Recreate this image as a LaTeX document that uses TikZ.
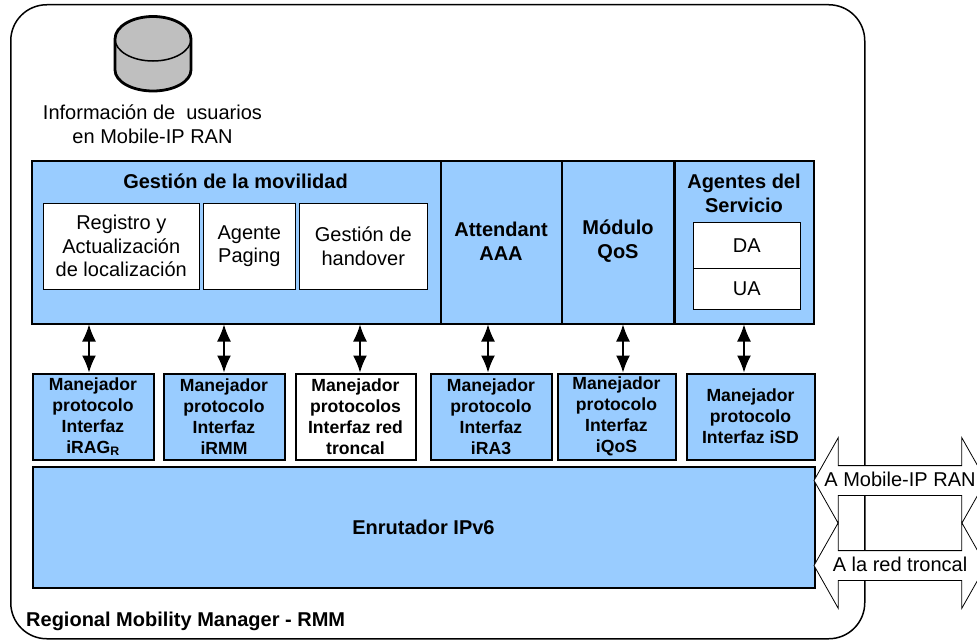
\documentclass[tikz,border=0pt]{standalone}
\usepackage{fontspec}
\setmainfont{Liberation Sans}
\usetikzlibrary{shapes.arrows,arrows.meta,positioning}
\definecolor{moduleblue}{HTML}{99CCFF}
\newcommand{\regfont}{\fontsize{20}{23.5}\selectfont}
\newcommand{\titlefont}{\fontsize{20}{24}\selectfont\bfseries}
\newcommand{\manfont}{\fontsize{17.6}{21}\selectfont\bfseries}

\begin{document}
\begin{tikzpicture}[
    x=1pt, y=-1pt,
    cell/.style={rectangle, draw=black, fill=moduleblue, line width=2pt, anchor=north west, inner sep=0pt},
    inbox/.style={rectangle, draw=black, fill=white, line width=1.6pt, anchor=north west, align=center, inner sep=0pt, font=\regfont},
    handler/.style={cell, align=center, font=\manfont, minimum height=86pt},
    label/.style={align=center, inner sep=0pt, font=\titlefont},
    link/.style={{Latex[length=17pt,width=14pt]}-{Latex[length=17pt,width=14pt]}, line width=1.4pt},
    extarrow/.style={double arrow, draw=black, fill=white, line width=0.8pt, font=\regfont, minimum height=172pt, double arrow tip angle=121, double arrow head extend=28pt, inner xsep=0pt, inner ysep=0pt, text height=20pt, text depth=9pt}
]
\useasboundingbox (0,0) rectangle (977,642);

% Outer frame
\node[rectangle, draw=black, line width=1.5pt, rounded corners=36pt, anchor=north west, minimum width=854pt, minimum height=634pt, inner sep=0pt] (rmm) at (10,4) {};
\node[anchor=west, inner sep=0pt, font=\titlefont] (rmmtext) at (26,621) {Regional Mobility Manager - RMM};

% Database
\draw[draw=black, fill=black!25, line width=2.8pt] (115,39) arc[start angle=180, end angle=0, x radius=38pt, y radius=22.5pt] -- (191,70) arc[start angle=0, end angle=-180, x radius=38pt, y radius=21pt] -- cycle;
\draw[draw=black, line width=1.5pt] (115,39) arc[start angle=180, end angle=360, x radius=38pt, y radius=22pt];
\node[align=center, inner sep=0pt, font=\regfont] (dbtext) at (152.5,124) {Información de \ usuarios\\en Mobile-IP RAN};

% Top row
\node[cell, minimum width=410pt, minimum height=163pt] (gestion) at (30.5,159.5) {};
\node[cell, minimum width=121pt, minimum height=163pt] (attendant) at (440,159.5) {};
\node[cell, minimum width=112pt, minimum height=163pt] (modulo) at (561,159.5) {};
\node[cell, minimum width=139pt, minimum height=163pt] (agentes) at (674,159.5) {};
\node[label] (gestiontext) at (235.5,181) {Gestión de la movilidad};
\node[label] (attendanttext) at (501,241.5) {Attendant\\AAA};
\node[label] (modulotext) at (618,241.5) {Módulo\\QoS};
\node[label] (agentestext) at (744,193.5) {Agentes del\\Servicio};

% Boxes inside
\node[inbox, minimum width=156pt, minimum height=86pt] (registro) at (42.5,202.5) {Registro y\\Actualización\\de localización};
\node[inbox, minimum width=92pt, minimum height=86pt] (paging) at (202.5,202.5) {Agente\\Paging};
\node[inbox, minimum width=128pt, minimum height=86pt] (handover) at (298.5,202.5) {Gestión de\\handover};
\node[inbox, minimum width=107pt, minimum height=46pt] (da) at (692.5,221.5) {DA};
\node[inbox, minimum width=107pt, minimum height=41pt] (ua) at (692.5,267.5) {UA};

% Protocol handlers
\node[handler, minimum width=121pt] (mana) at (31.5,372.5) {Manejador\\protocolo\\Interfaz\\iRAG\textsubscript{R}};
\node[handler, minimum width=121pt] (manb) at (162.5,372.5) {Manejador\\protocolo\\Interfaz\\iRMM};
\node[handler, minimum width=120pt, fill=white] (manc) at (294.5,372.5) {Manejador\\protocolos\\Interfaz red\\troncal};
\node[handler, minimum width=121pt] (mand) at (429.5,372.5) {Manejador\\protocolo\\Interfaz\\iRA3};
\node[handler, minimum width=118pt] (mane) at (556.5,372.5) {Manejador\\protocolo\\Interfaz\\iQoS};
\node[handler, minimum width=128pt] (manf) at (685.5,372.5) {Manejador\\protocolo\\Interfaz iSD};

% Router
\node[cell, minimum width=782pt, minimum height=121pt, font=\titlefont] (router) at (31.5,465.5) {Enrutador IPv6};

% External links
\node[extarrow] (toran) at (900,480.5) {A Mobile-IP RAN};
\node[extarrow] (tocore) at (900,565.5) {A la red troncal};

% Arrows
\draw[link] ([xshift=-4pt]mana.north) -- ([xshift=-4pt]mana.north |- gestion.south);
\draw[link] ([xshift=0pt]manb.north) -- ([xshift=0pt]manb.north |- gestion.south);
\draw[link] ([xshift=4.5pt]manc.north) -- ([xshift=4.5pt]manc.north |- gestion.south);
\draw[link] ([xshift=-3pt]mand.north) -- ([xshift=-3pt]mand.north |- attendant.south);
\draw[link] ([xshift=6.5pt]mane.north) -- ([xshift=6.5pt]mane.north |- modulo.south);
\draw[link] ([xshift=-6.5pt]manf.north) -- ([xshift=-6.5pt]manf.north |- agentes.south);

\end{tikzpicture}
\end{document}
